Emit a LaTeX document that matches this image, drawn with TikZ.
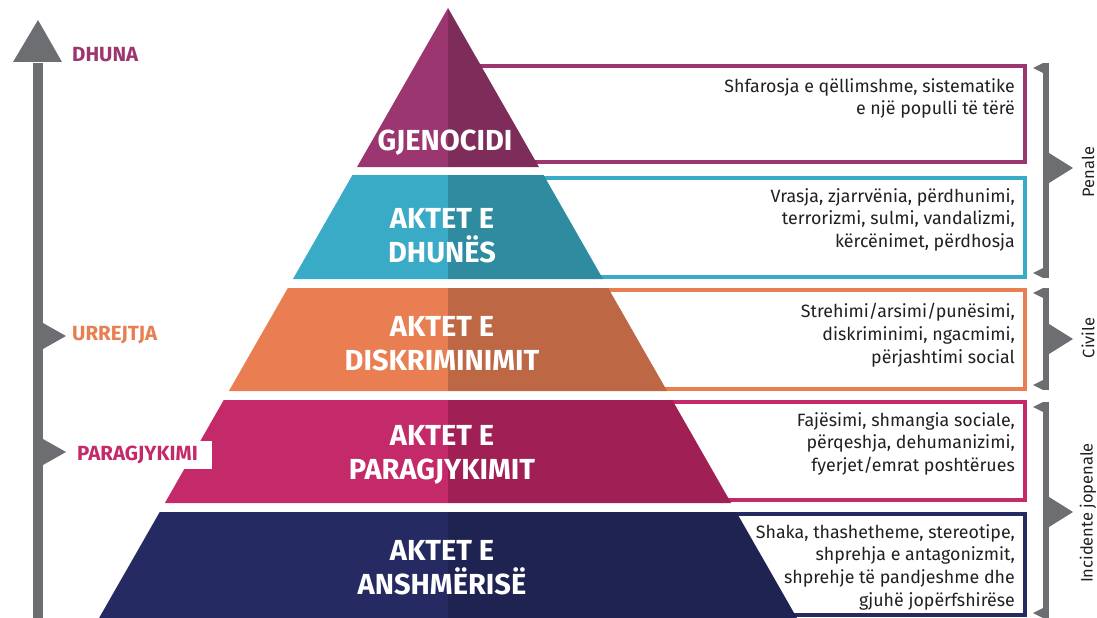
\documentclass[tikz,border=0pt]{standalone}
\usepackage{fontspec}
\setmainfont{Fira Sans}
\definecolor{lgen}{HTML}{9B3670} \definecolor{dgen}{HTML}{7E2C5A}
\definecolor{lviol}{HTML}{3AABC7} \definecolor{dviol}{HTML}{2E8BA0}
\definecolor{ldisc}{HTML}{E87E51} \definecolor{ddisc}{HTML}{BD6744}
\definecolor{lprej}{HTML}{C42A69} \definecolor{dprej}{HTML}{A01F55}
\definecolor{lbias}{HTML}{252B62} \definecolor{dbias}{HTML}{1E2352}
\definecolor{arrowgray}{HTML}{6D6E71} \definecolor{textc}{HTML}{231F20}
\tikzset{bandlabel/.style={text=white,inner sep=0pt,align=center,font=\bfseries\fontsize{29}{34}\selectfont},
 desc/.style={anchor=north east,align=right,inner sep=0pt,text=textc,font=\fontsize{17.8}{22.8}\selectfont},
 side/.style={rotate=90,inner sep=0pt,text=textc,font=\fontsize{16.5}{20}\selectfont},
 level/.style={anchor=west,inner sep=0pt,font=\bfseries\fontsize{20.5}{24}\selectfont}}
\begin{document}
\begin{tikzpicture}[x=1pt,y=-1pt]
\useasboundingbox (0,0) rectangle (1097,618);
\foreach \t/\b/\bt/\bb/\c in {8/167/66/162/gen, 175/279/178/277/viol, 288/391/290/389/disc, 400/503/402/500/prej, 512/618/514/615/bias} {
 \draw[line width=4.5pt,draw=l\c,fill=white] (460,\bt) rectangle (1025,\bb);
 \fill[l\c] (448,\t) -- ({448-0.572*(\t-8)},\t) -- ({448-0.572*(\b-8)},\b) -- (448,\b) -- cycle;
 \fill[d\c] (448,\t) -- ({448+0.572*(\t-8)},\t) -- ({448+0.572*(\b-8)},\b) -- (448,\b) -- cycle; };
\node[bandlabel] (gen) at (445,143) {GJENOCIDI};
\node[bandlabel] (viol) at (442,236) {AKTET E\\DHUNËS};
\node[bandlabel] (disc) at (442,344) {AKTET E\\DISKRIMINIMIT};
\node[bandlabel] (prej) at (442,454.5) {AKTET E\\PARAGJYKIMIT};
\node[bandlabel] (bias) at (442,568) {AKTET E\\ANSHMËRISË};
\node[desc] (dgen) at (1015,78) {Shfarosja e qëllimshme, sistematike\\e një populli të tërë};
\node[desc] (dviol) at (1015,188) {Vrasja, zjarrvënia, përdhunimi,\\terrorizmi, sulmi, vandalizmi,\\kërcënimet, përdhosja};
\node[desc] (ddisc) at (1015,303) {Strehimi/arsimi/punësimi,\\diskriminimi, ngacmimi,\\përjashtimi social};
\node[desc] (dprej) at (1015,412) {Fajësimi, shmangia sociale,\\përqeshja, dehumanizimi,\\fyerjet/emrat poshtërues};
\node[desc] (dbias) at (1015,524) {Shaka, thashetheme, stereotipe,\\shprehja e antagonizmit,\\shprehje të pandjeshme dhe\\gjuhë jopërfshirëse};
\fill[arrowgray] (33,63) rectangle (43,618); \fill[arrowgray] (13,62) -- (38,20) -- (62,62) -- cycle;
\foreach \y in {336,452} { \fill[arrowgray] (43,\y-13) -- (66,\y) -- (43,\y+13) -- cycle; };
\node[level,text=lgen] (dhuna) at (72,55) {DHUNA};
\node[level,text=ldisc] (urr) at (72,335.5) {URREJTJA};
\node[level,text=lprej,fill=white,inner xsep=2pt,text width=133pt,minimum height=28pt] (para) at (75,455) {PARAGJYKIMI};
\foreach \t/\b/\m/\txt/\ty [count=\i] in {63/278/168/Penale/172, 288/390/339/Civile/338, 402/618/512/Incidente jopenale/513} {
 \fill[arrowgray] (1043,\t) rectangle (1049,\b);
 \fill[arrowgray] (1043,\t) -- (1033,\t+5) -- (1043,\t+10) -- cycle; \fill[arrowgray] (1043,\b) -- (1033,\b-5) -- (1043,\b-10) -- cycle;
 \fill[arrowgray] (1049,\m-15) -- (1073,\m) -- (1049,\m+15) -- cycle;
 \node[side] (side\i) at (1088,\ty) {\txt}; };
\end{tikzpicture}
\end{document}
